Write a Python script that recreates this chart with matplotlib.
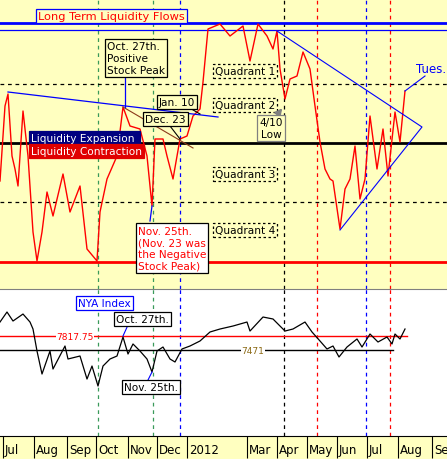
import matplotlib
matplotlib.use("Agg")
import matplotlib.pyplot as plt
import numpy as np

# x positions are trading-time units (~30 per month)
liq_x = [0,5,8,12,15,18,23,28,33,37,42,47,53,63,70,80,87,97,100,107,117,123,130,140,147,152,155,163,167,173,180,187,193,200,203,208,220,230,243,250,258,267,273,277,280,285,290,297,303,310,315,320,325,330,333,340,345,350,355,360,365,370,377,383,388,395,400,405]
liq_v = [-38,37,49,-13,-26,-43,32,-13,-89,-118,-89,-49,-73,-31,-69,-43,-106,-118,-69,-36,-13,36,17,14,-13,-63,4,4,-13,-36,4,7,27,34,61,114,119,107,117,82,119,107,94,112,74,44,64,67,91,74,37,1,-26,-36,-38,-86,-46,-36,-3,-56,-36,27,-26,14,-33,31,1,52]
nya_x = [0,7,13,23,30,33,37,42,50,53,65,68,80,87,92,98,103,110,117,123,128,133,140,147,152,157,163,170,175,182,190,200,210,220,233,247,250,263,273,280,285,293,305,312,320,327,333,339,347,357,362,370,378,387,392,395,400,405]
nya_v = [8164,8412,8189,8362,8164,7991,7446,6876,7446,7000,7570,7248,7322,6752,7074,6579,7074,7248,7322,7793,7372,7620,7446,7248,6926,7446,7545,7248,7174,7496,7570,7694,7917,7991,8065,8164,7941,8288,8239,8065,7941,7991,8164,7917,7694,7496,7570,7298,7545,7744,7545,7867,7669,7793,7620,7867,7744,7991]
month_labels = ["Jul","Aug","Sep","Oct","Nov","Dec","2012","Mar","Apr","May","Jun","Jul","Aug","Sep"]
month_edges = [3,34,67,96,128,157,187,247,277,307,337,367,398,432]

YEL = "#FFFFC0"
fig = plt.figure(figsize=(4.47,4.60), dpi=100)
fig.patch.set_facecolor(YEL)
def P(y): return 144 - y  # pixel row -> liquidity units (style helper)

ax = fig.add_axes([0, 170/460, 1, 290/460])
ax.set_facecolor(YEL)
ax.set_xlim(0,447); ax.set_ylim(P(290), P(0))
ax.axis("off")
vl = [(98,"#3a9a5a"),(153,"#3a9a5a"),(180,"blue"),(366,"blue"),(284,"black"),(317,"red"),(390,"red")]
for xv,c in vl:
    ax.axvline(xv, color=c, ls=(0,(3,3)), lw=0.9)
for yv in [85,203]:
    ax.axhline(P(yv), color="black", ls=(0,(3,3)), lw=0.9)
ax.axhline(P(144), color="black", lw=2)
ax.axhline(P(263), color="red", lw=2)
ax.axhline(P(24), color="blue", lw=2)
ax.axhline(P(31), color="blue", lw=0.9)
ax.plot(liq_x, liq_v, color="red", lw=1)
ax.plot([8,218],[P(93),P(118)], color="blue", lw=0.9)
ax.plot([123,193],[P(108),P(149)], color="#8B3A1A", lw=0.8)
ax.plot([277,422,340],[P(32),P(128),P(231)], color="blue", lw=0.8)
ax.plot([liq_x[-1],425],[liq_v[-1],P(77)], color="blue", lw=0.8)
fs = 7.6
def box(x,y,s,fc="white",tc="black",ec="black",ls="-",ha="left",va="center",f=fs):
    ax.text(x,P(y),s,color=tc,fontsize=f,ha=ha,va=va,linespacing=1.2,
            bbox=dict(boxstyle="square,pad=0.2",fc=fc,ec=ec,ls=ls,lw=0.9))
box(38,17,"Long Term Liquidity Flows",fc=YEL,tc="red",ec="blue",f=8.2)
ax.plot([125,125],[P(72),P(108)],color="blue",lw=0.9)
box(107,59,"Oct. 27th.\nPositive\nStock Peak",fc=YEL)
ax.plot([188,200],[P(108),P(115)],color="black",lw=0.8)
box(159,103,"Jan. 10",fc=YEL)
ax.plot([170,180],[P(127),P(140)],color="black",lw=0.8)
box(145,120,"Dec. 23",fc=YEL)
for y,s in [(72,"Quadrant 1"),(106,"Quadrant 2"),(175,"Quadrant 3"),(231,"Quadrant 4")]:
    box(215,y,s,fc=YEL,ls=(0,(2,2)))
ax.annotate("",xy=(284,P(107)),xytext=(277,P(116)),arrowprops=dict(arrowstyle="-|>",color="gray",lw=1.5))
box(271,129,"4/10\nLow",fc=YEL,ec="gray",ha="center")
box(31,139,"Liquidity Expansion ",fc="#000080",tc="white",ec="#000080")
box(31,152,"Liquidity Contraction",fc="#E00000",tc="white",ec="#E00000")
ax.plot([150,152],[P(222),P(207)],color="blue",lw=0.9)
box(138,249,"Nov. 25th.\n(Nov. 23 was\nthe Negative\nStock Peak)",tc="red")
ax.text(416,P(70),"Tues.",color="blue",fontsize=8.5,va="center")

def N(y): return 7471+(351-y)*24.77
bx = fig.add_axes([0, 23/460, 1, 147/460])
bx.set_facecolor("white")
for xv,c in vl:
    bx.axvline(xv, color=c, ls=(0,(3,3)), lw=0.9)
bx.plot([0,407],[7817.75,7817.75],color="red",lw=1)
bx.plot([0,393],[7471,7471],color="black",lw=1)
bx.plot(nya_x, nya_v, color="black", lw=0.9)
bx.text(75,7817.75,"7817.75",color="red",fontsize=6.5,ha="center",va="center",bbox=dict(fc="white",ec="none",pad=0.5))
bx.text(253,7471,"7471",color="#8B6914",fontsize=6.5,ha="center",va="center",bbox=dict(fc="white",ec="none",pad=0.5))
def bbox_(x,y,s,tc="black",ec="black"):
    bx.text(x,N(y),s,color=tc,fontsize=fs,va="center",bbox=dict(boxstyle="square,pad=0.2",fc="white",ec=ec,lw=0.9))
bx.plot([123,128],[N(337),N(326)],color="blue",lw=0.8)
bx.plot([148,152],[N(381),N(373)],color="blue",lw=0.8)
bbox_(78,304,"NYA Index",tc="blue",ec="blue")
bbox_(116,320,"Oct. 27th.")
bbox_(124,388,"Nov. 25th.")
for s in ["left","right"]:
    bx.spines[s].set_visible(False)
bx.spines["top"].set_color("gray")
bx.set_yticks([])
bx.set_xticks(month_edges)
bx.set_xticklabels([])
bx.tick_params(axis="x", length=16, width=0.8, direction="out", color="black")
centers = [e+2 for e in month_edges]
bx.set_xticks(centers, minor=True)
bx.set_xticklabels(month_labels, minor=True, fontsize=8.5, ha="left")
bx.tick_params(axis="x", which="minor", length=0, pad=5)
bx.set_xlim(0,447); bx.set_ylim(N(437), N(290))
fig.savefig("out.png", dpi=100, facecolor=YEL)
